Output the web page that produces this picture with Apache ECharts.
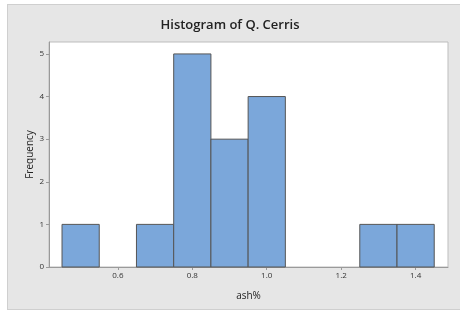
<!DOCTYPE html>
<html><head><meta charset="utf-8">
<script src="https://cdn.jsdelivr.net/npm/echarts@6/dist/echarts.min.js"></script>
<style>
html,body{margin:0;padding:0;background:#fff;}
#bg{position:absolute;left:7px;top:4px;width:452px;height:304px;background:#e6e6e6;border:1px solid #cfcfcf;}
#c{position:absolute;left:0;top:0;width:460px;height:311px;}
</style></head>
<body><div id="bg"></div><div id="c"></div>
<script>
const binStarts = [0.45, 0.55, 0.65, 0.75, 0.85, 0.95, 1.05, 1.15, 1.25, 1.35];
const binWidth = 0.1;
const counts = [1, 0, 1, 5, 3, 4, 0, 0, 1, 1];
const xTicks = [0.6, 0.8, 1.0, 1.2, 1.4];
const yTicks = [0, 1, 2, 3, 4, 5];

const data = binStarts.map((s, i) => [s, s + binWidth, counts[i]]).filter(d => d[2] > 0);
const chart = echarts.init(document.getElementById('c'), null, {renderer: 'canvas'});
const font = "'Open Sans', 'Noto Sans', sans-serif";
chart.setOption({
  backgroundColor: 'transparent',
  animation: false,
  title: {text: 'Histogram of Q. Cerris', left: 'center', top: 14,
    textStyle: {fontFamily: font, fontSize: 13, fontWeight: 600, color: '#222'}},
  grid: {left: 49, top: 42, right: 12, bottom: 44, show: true, backgroundColor: '#fff', borderColor: '#bdbdbd', borderWidth: 1},
  xAxis: {type: 'value', min: 0.415, max: 1.487,
    name: 'ash%', nameLocation: 'middle', nameGap: 24, nameMoveOverlap: false,
    nameTextStyle: {fontFamily: font, fontSize: 10, color: '#222'},
    axisLine: {show: true, lineStyle: {color: '#9a9a9a'}},
    axisTick: {show: true, customValues: xTicks, length: 3, lineStyle: {color: '#9a9a9a'}},
    axisLabel: {customValues: xTicks, formatter: v => v.toFixed(1), fontFamily: font, fontSize: 8, color: '#333', margin: 5},
    splitLine: {show: false}},
  yAxis: {type: 'value', min: 0, max: 5.28,
    name: 'Frequency', nameLocation: 'middle', nameGap: 14, nameMoveOverlap: false,
    nameTextStyle: {fontFamily: font, fontSize: 10, color: '#222'},
    axisLine: {show: true, lineStyle: {color: '#9a9a9a'}},
    axisTick: {show: true, customValues: yTicks, length: 3, lineStyle: {color: '#9a9a9a'}},
    axisLabel: {customValues: yTicks, fontFamily: font, fontSize: 8, color: '#333', margin: 5},
    splitLine: {show: false}},
  series: [{
    type: 'custom',
    data: data,
    renderItem: function (params, api) {
      const p0 = api.coord([api.value(0), api.value(2)]);
      const p1 = api.coord([api.value(1), 0]);
      return {type: 'rect', shape: {x: p0[0], y: p0[1], width: p1[0] - p0[0], height: p1[1] - p0[1]},
        style: {fill: '#7ba7da', stroke: '#555', lineWidth: 1}};
    }
  }]
});
</script></body></html>
